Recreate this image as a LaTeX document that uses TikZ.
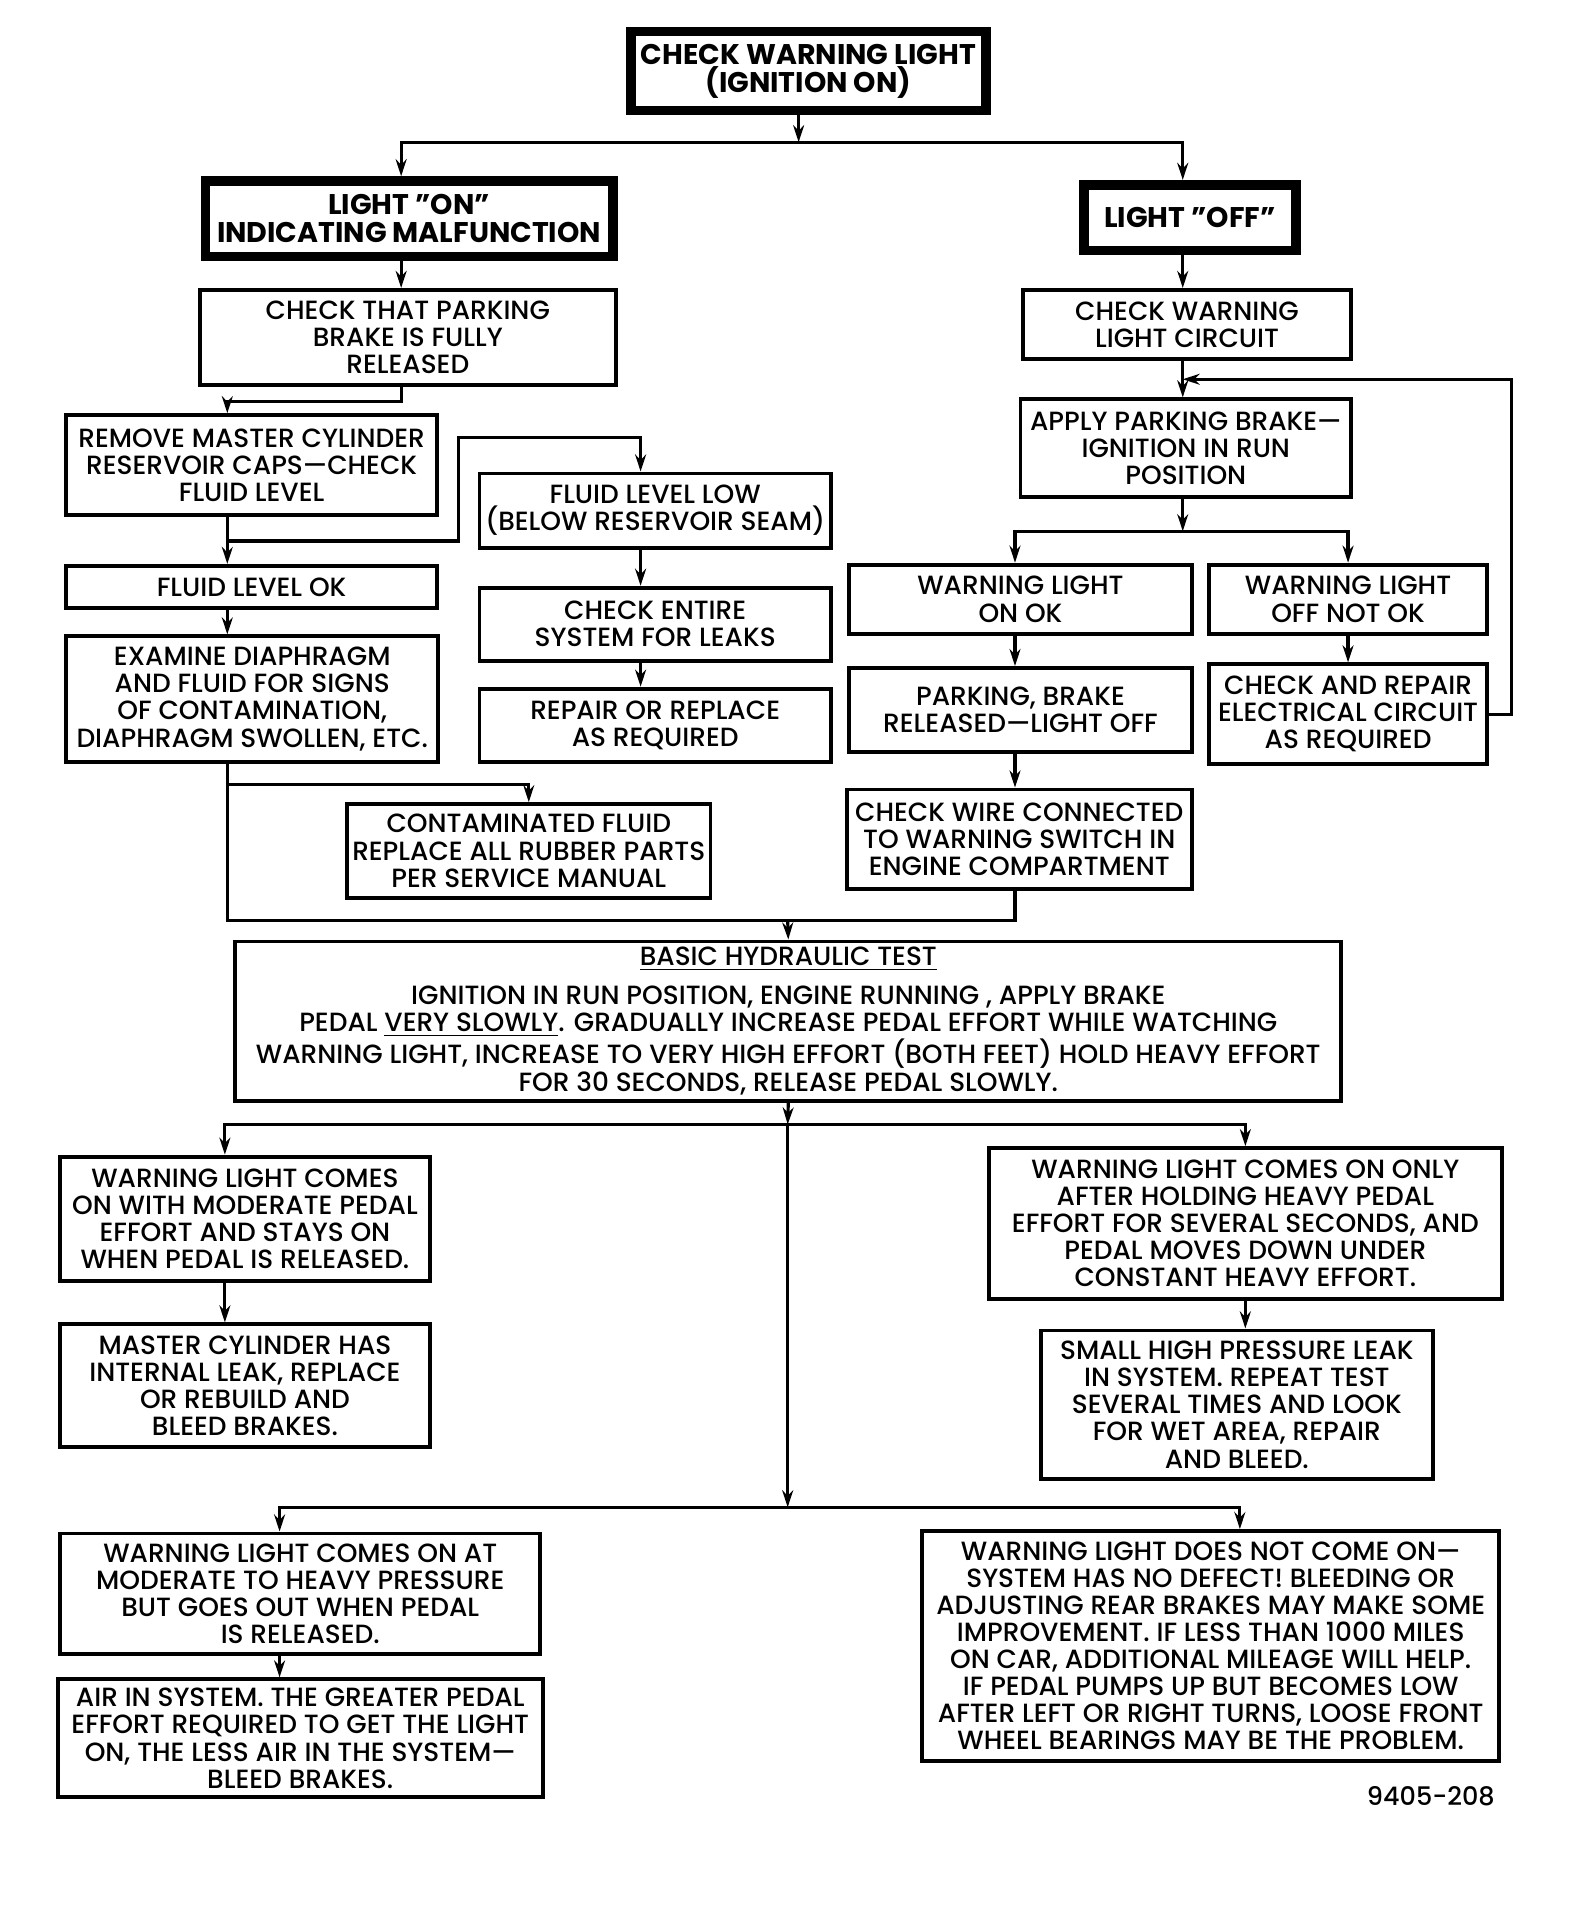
\documentclass[tikz,border=0pt]{standalone}
\usepackage{fontspec}
\setmainfont{Poppins}[UprightFont=* Medium, BoldFont=* Bold]
\usetikzlibrary{arrows.meta,calc}

\tikzset{
  box/.style={draw, line width=1.6pt, inner sep=0pt, align=center,
    font=\fontsize{10.85}{11.15}\selectfont},
  head/.style={box, line width=4pt, font=\fontsize{11.7}{11.6}\selectfont\bfseries},
  wh/.style 2 args={minimum width=#1*0.5pt, minimum height=#2*0.5pt},
  arr/.style={line width=1.3pt, -{Stealth[length=7pt,width=4.5pt]}},
  line/.style={line width=1.3pt}
}

\begin{document}
\begin{tikzpicture}[x=0.5pt,y=-0.5pt]
  \useasboundingbox (0,0) rectangle (1290,1568);

  % heads
  \node[head, wh={292}{65}] (top) at (665,58.5) {CHECK WARNING LIGHT\\(IGNITION ON)};
  \node[head, wh={335}{62}] (on) at (336.5,180) {LIGHT ''ON''\\INDICATING MALFUNCTION};
  \node[head, wh={174}{54}] (off) at (979,179) {LIGHT ''OFF''};

  % left branch
  \node[box, wh={342}{78}] (park) at (335.5,277.5) {CHECK THAT PARKING\\BRAKE IS FULLY\\RELEASED};
  \node[box, wh={305}{82}] (remove) at (207,382.5) {REMOVE MASTER CYLINDER\\RESERVOIR CAPS—CHECK\\FLUID LEVEL};
  \node[box, wh={289}{61}] (low) at (539,420) {FLUID LEVEL LOW\\(BELOW RESERVOIR SEAM)};
  \node[box, wh={305}{35}] (ok) at (207,483) {FLUID LEVEL OK};
  \node[box, wh={306}{103}] (exam) at (207.5,575) {EXAMINE DIAPHRAGM\\AND FLUID FOR SIGNS\\OF CONTAMINATION,\\DIAPHRAGM SWOLLEN, ETC.};
  \node[box, wh={289}{60}] (leaks) at (539,513.5) {CHECK ENTIRE\\SYSTEM FOR LEAKS};
  \node[box, wh={289}{60}] (repair) at (539,596.5) {REPAIR OR REPLACE\\AS REQUIRED};
  \node[box, wh={299}{77}] (contam) at (435,700) {CONTAMINATED FLUID\\REPLACE ALL RUBBER PARTS\\PER SERVICE MANUAL};

  % right branch
  \node[box, wh={270}{57}] (circ) at (976.5,267) {CHECK WARNING\\LIGHT CIRCUIT};
  \node[box, wh={272}{80}] (apply) at (975.5,368.5) {APPLY PARKING BRAKE—\\IGNITION IN RUN\\POSITION};
  \node[box, wh={282}{57}] (lon) at (839.5,493) {WARNING LIGHT\\ON OK};
  \node[box, wh={229}{57}] (loff) at (1109,493) {WARNING LIGHT\\OFF NOT OK};
  \node[box, wh={282}{69}] (rel) at (839.5,584) {PARKING, BRAKE\\RELEASED—LIGHT OFF};
  \node[box, wh={229}{82}] (elec) at (1109,587.5) {CHECK AND REPAIR\\ELECTRICAL CIRCUIT\\AS REQUIRED};
  \node[box, wh={284}{82}] (wire) at (838.5,690.5) {CHECK WIRE CONNECTED\\TO WARNING SWITCH IN\\ENGINE COMPARTMENT};

  % hydraulic test
  \node[box, wh={910}{131}] (basic) at (648.5,840)
    {\underline{BASIC HYDRAULIC TEST}\\[4.8pt]
     IGNITION IN RUN POSITION, ENGINE RUNNING , APPLY BRAKE\\
     PEDAL \underline{VERY SLOWLY}. GRADUALLY INCREASE PEDAL EFFORT WHILE WATCHING\\
     WARNING LIGHT, INCREASE TO VERY HIGH EFFORT (BOTH FEET) HOLD HEAVY EFFORT\\
     FOR 30 SECONDS, RELEASE PEDAL SLOWLY.};
  \node[box, wh={304}{102}] (l1) at (201.5,1002.5) {WARNING LIGHT COMES\\ON WITH MODERATE PEDAL\\EFFORT AND STAYS ON\\WHEN PEDAL IS RELEASED.};
  \node[box, wh={304}{101}] (l2) at (201.5,1140) {MASTER CYLINDER HAS\\INTERNAL LEAK, REPLACE\\OR REBUILD AND\\BLEED BRAKES.};
  \node[box, wh={422}{124}] (r1) at (1024.5,1006.5) {WARNING LIGHT COMES ON ONLY\\AFTER HOLDING HEAVY PEDAL\\EFFORT FOR SEVERAL SECONDS, AND\\PEDAL MOVES DOWN UNDER\\CONSTANT HEAVY EFFORT.};
  \node[box, wh={322}{122}] (r2) at (1017.5,1155.5) {SMALL HIGH PRESSURE LEAK\\IN SYSTEM. REPEAT TEST\\SEVERAL TIMES AND LOOK\\FOR WET AREA, REPAIR\\AND BLEED.};
  \node[box, wh={395}{99}] (l3) at (247,1311) {WARNING LIGHT COMES ON AT\\MODERATE TO HEAVY PRESSURE\\BUT GOES OUT WHEN PEDAL\\IS RELEASED.};
  \node[box, wh={399}{97}] (l4) at (247,1430) {AIR IN SYSTEM. THE GREATER PEDAL\\EFFORT REQUIRED TO GET THE LIGHT\\ON, THE LESS AIR IN THE SYSTEM—\\BLEED BRAKES.};
  \node[box, wh={475}{189}] (r3) at (996,1354) {WARNING LIGHT DOES NOT COME ON—\\SYSTEM HAS NO DEFECT! BLEEDING OR\\ADJUSTING REAR BRAKES MAY MAKE SOME\\IMPROVEMENT. IF LESS THAN 1000 MILES\\ON CAR, ADDITIONAL MILEAGE WILL HELP.\\IF PEDAL PUMPS UP BUT BECOMES LOW\\AFTER LEFT OR RIGHT TURNS, LOOSE FRONT\\WHEEL BEARINGS MAY BE THE PROBLEM.};

  \node[anchor=east, inner sep=0pt, font=\fontsize{10.5}{12}\selectfont] (code) at (1230,1478) {9405-208};

  % columns and junctions
  \coordinate (cA) at (187,0);
  \coordinate (cB) at (330,0);
  \coordinate (cC) at (527,0);
  \coordinate (cE) at (973,0);
  \coordinate (cF) at (835,0);
  \coordinate (cI) at (185,0);
  \coordinate (cK) at (230,0);
  \coordinate (cM) at (1020,0);
  \coordinate (j1) at (657,117);
  \coordinate (j2) at (648,757);
  \coordinate (j3) at (973,312);
  \coordinate (j4) at (973,437);
  \coordinate (j5) at (648,925);
  \coordinate (j6) at (648,1240);

  % top
  \draw[arr] (top.south -| j1) -- (j1);
  \draw[arr] (j1) -| (on.north -| cB);
  \draw[arr] (j1) -| (off.north -| cE);

  % light on
  \draw[arr] (on.south -| cB) -- (park.north -| cB);
  \draw[arr] (park.south -| cB) -- ++(0,12) -| (remove.north -| cA);
  \draw[arr] (remove.south -| cA) -- (ok.north -| cA);
  \draw[arr] (remove.south -| cA) ++(0,20) -| ++(190,-85) -| (low.north -| cC);
  \draw[arr] (ok.south -| cA) -- (exam.north -| cA);
  \draw[arr] (low.south -| cC) -- (leaks.north -| cC);
  \draw[arr] (leaks.south -| cC) -- (repair.north -| cC);
  \draw[arr] (exam.south -| cA) ++(0,17) -| (contam.north);
  \draw[line] (exam.south -| cA) |- (j2) -| (wire.south -| cF);
  \draw[arr] (j2) -- (basic.north);

  % light off
  \draw[arr] (off.south -| cE) -- (circ.north -| cE);
  \draw[arr] (circ.south -| cE) -- (apply.north -| cE);
  \draw[arr] (elec.east) -- ++(18,0) |- (j3);
  \draw[arr] (apply.south -| cE) -- (j4);
  \draw[arr] (j4) -| (lon.north -| cF);
  \draw[arr] (j4) -| (loff.north);
  \draw[arr] (lon.south -| cF) -- (rel.north -| cF);
  \draw[arr] (loff.south) -- (elec.north);
  \draw[arr] (rel.south -| cF) -- (wire.north -| cF);

  % hydraulic test results
  \draw[arr] (basic.south) -- (j5);
  \draw[arr] (j5) -| (l1.north -| cI);
  \draw[arr] (j5) -| (r1.north);
  \draw[arr] (l1.south -| cI) -- (l2.north -| cI);
  \draw[arr] (r1.south) -- (r1.south |- r2.north);
  \draw[arr] (j5) -- (j6);
  \draw[arr] (j6) -| (l3.north -| cK);
  \draw[arr] (j6) -| (r3.north -| cM);
  \draw[arr] (l3.south -| cK) -- (l4.north -| cK);
\end{tikzpicture}
\end{document}
